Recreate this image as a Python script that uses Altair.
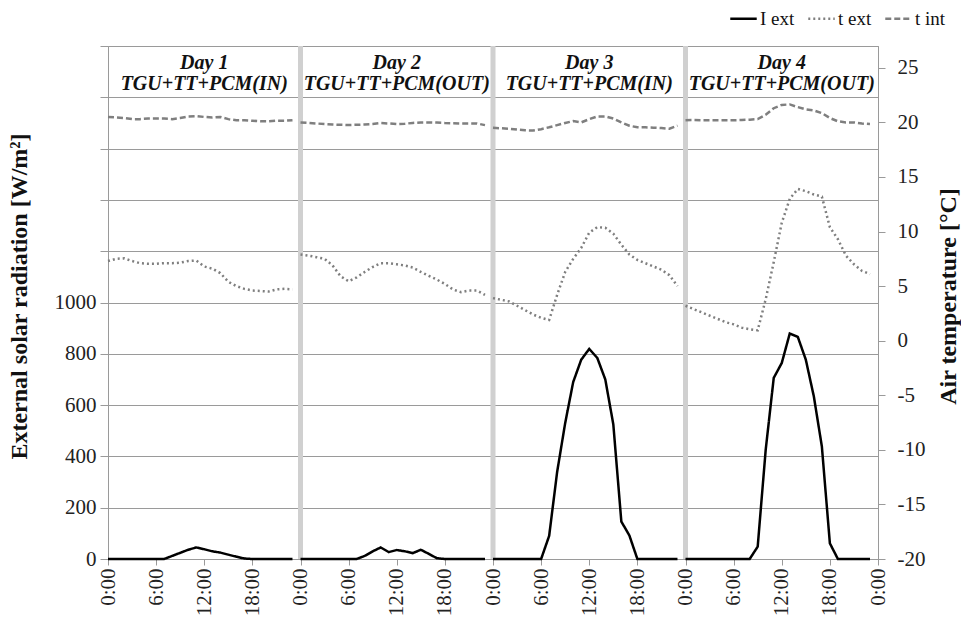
import altair as alt
import pandas as pd

FONT = "Liberation Serif"

DAY_LABELS = ["Day 1", "Day 2", "Day 3", "Day 4"]
SETUPS = ["TGU+TT+PCM(IN)", "TGU+TT+PCM(OUT)", "TGU+TT+PCM(IN)", "TGU+TT+PCM(OUT)"]
SERIES = ["I ext", "t ext", "t int"]
HOURS = list(range(24))
TICK_HOURS = list(range(0, 97, 6))

# External solar radiation [W/m2], hourly, one list per day
I_EXT = [
    [0, 0, 0, 0, 0, 0, 0, 0, 12, 24, 36, 45, 38, 30, 25, 17, 9, 2, 0, 0, 0, 0, 0, 0],
    [0, 0, 0, 0, 0, 0, 0, 0, 12, 30, 45, 27, 35, 30, 23, 36, 20, 3, 0, 0, 0, 0, 0, 0],
    [0, 0, 0, 0, 0, 0, 0, 90, 340, 530, 690, 777, 819, 784, 700, 525, 146, 92, 0, 0, 0, 0, 0, 0],
    [0, 0, 0, 0, 0, 0, 0, 0, 0, 48, 426, 706, 764, 879, 866, 777, 634, 439, 61, 0, 0, 0, 0, 0],
]

# External air temperature [degC]
T_EXT = [
    [7.3, 7.5, 7.55, 7.3, 7.1, 7.05, 7.05, 7.1, 7.1, 7.15, 7.3, 7.35,
     6.8, 6.6, 6.2, 5.4, 5.0, 4.75, 4.6, 4.55, 4.5, 4.7, 4.75, 4.7],
    [7.9, 7.8, 7.65, 7.5, 6.9, 5.9, 5.45, 5.8, 6.3, 6.75, 7.1, 7.1,
     7.0, 6.9, 6.7, 6.3, 5.95, 5.6, 5.2, 4.7, 4.45, 4.6, 4.6, 4.2],
    [3.9, 3.75, 3.6, 3.2, 2.8, 2.4, 2.1, 1.9, 4.2, 6.3, 7.5, 8.5,
     9.9, 10.4, 10.35, 9.8, 8.8, 7.9, 7.4, 7.1, 6.8, 6.5, 6.0, 5.0],
    [3.2, 2.9, 2.6, 2.3, 2.0, 1.7, 1.5, 1.2, 1.05, 0.95, 3.8, 7.2,
     10.8, 13.0, 13.9, 13.7, 13.4, 13.2, 10.4, 9.3, 7.8, 7.0, 6.4, 6.1],
]

# Internal air temperature [degC]
T_INT = [
    [20.5, 20.45, 20.4, 20.3, 20.3, 20.35, 20.35, 20.35, 20.3, 20.4, 20.55, 20.58,
     20.5, 20.45, 20.5, 20.3, 20.2, 20.2, 20.15, 20.1, 20.1, 20.15, 20.15, 20.2],
    [20.0, 19.95, 19.9, 19.85, 19.8, 19.78, 19.76, 19.78, 19.8, 19.85, 19.94, 19.9,
     19.85, 19.88, 19.95, 20.0, 20.0, 19.98, 19.94, 19.92, 19.9, 19.9, 19.9, 19.75],
    [19.5, 19.46, 19.42, 19.35, 19.28, 19.25, 19.38, 19.55, 19.75, 19.95, 20.12, 20.0,
     20.3, 20.55, 20.55, 20.35, 20.0, 19.7, 19.55, 19.55, 19.52, 19.48, 19.42, 19.7],
    [20.2, 20.22, 20.2, 20.2, 20.2, 20.2, 20.2, 20.22, 20.25, 20.3, 20.7, 21.3,
     21.6, 21.65, 21.4, 21.2, 21.1, 20.85, 20.4, 20.1, 20.0, 20.0, 19.9, 19.85],
]


def long_table(series_name, per_day):
    rows = []
    for d, values in enumerate(per_day):
        for h, v in zip(HOURS, values):
            rows.append({"hour": d * 24 + h, "day": d, "series": series_name, "value": v})
    return rows


solar_df = pd.DataFrame(long_table("I ext", I_EXT))
temp_df = pd.DataFrame(long_table("t ext", T_EXT) + long_table("t int", T_INT))
bounds_df = pd.DataFrame({"hour": [24, 48, 72]})
header_df = pd.DataFrame({
    "hour": [12, 36, 60, 84],
    "day_label": DAY_LABELS,
    "setup": SETUPS,
})

x_scale = alt.Scale(domain=[0, 96], nice=False, zero=False)
x_axis = alt.Axis(
    values=TICK_HOURS,
    labelExpr="(datum.value % 24) + ':00'",
    labelAngle=-90,
    grid=False,
    tickSize=6,
    labelPadding=3,
    title=None,
)


def x_enc():
    return alt.X("hour:Q", scale=x_scale, axis=x_axis)


color_scale = alt.Scale(domain=SERIES, range=["#000000", "#7f7f7f", "#7f7f7f"])
dash_scale = alt.Scale(domain=SERIES, range=[[1, 0], [2, 3], [6, 3]])
legend = alt.Legend(
    title=None,
    orient="none",
    legendX=621,
    legendY=-42,
    direction="horizontal",
    symbolType="stroke",
    symbolSize=700,
    symbolStrokeWidth=2.5,
    labelFont=FONT,
    labelFontSize=19,
    labelColor="#111111",
    labelOffset=2,
    columnPadding=8,
)

separators = alt.Chart(bounds_df).mark_rule(color="#d0d0d0", strokeWidth=5).encode(
    x=x_enc()
)

solar = alt.Chart(solar_df).mark_line(strokeWidth=2.5).encode(
    x=x_enc(),
    y=alt.Y(
        "value:Q",
        scale=alt.Scale(domain=[0, 2000], nice=False),
        axis=alt.Axis(
            orient="left",
            values=list(range(0, 2001, 200)),
            labelExpr="datum.value <= 1000 ? '' + datum.value : ''",
            title="External solar radiation [W/m²]",
            titleAngle=270,
            titleX=-89,
            titleY=250,
            titleAlign="center",
            titleBaseline="middle",
            grid=True,
            tickSize=8,
            labelPadding=4,
        ),
    ),
    color=alt.Color("series:N", scale=color_scale, legend=legend),
    strokeDash=alt.StrokeDash("series:N", scale=dash_scale, legend=legend),
    detail="day:N",
)

temps = alt.Chart(temp_df).mark_line(strokeWidth=2.5).encode(
    x=x_enc(),
    y=alt.Y(
        "value:Q",
        scale=alt.Scale(domain=[-20, 27], nice=False, zero=False),
        axis=alt.Axis(
            orient="right",
            values=list(range(-20, 26, 5)),
            labelExpr="'' + datum.value",
            title="Air temperature [°C]",
            titleAngle=270,
            titleX=70,
            titleY=250,
            titleAlign="center",
            titleBaseline="middle",
            grid=False,
            tickSize=7,
            labelPadding=12,
        ),
    ),
    color=alt.Color("series:N", scale=color_scale, legend=legend),
    strokeDash=alt.StrokeDash("series:N", scale=dash_scale, legend=legend),
    detail="day:N",
)

header_style = dict(font=FONT, fontSize=20, fontWeight="bold", fontStyle="italic",
                    color="#111111", baseline="middle", align="center")
header_day = alt.Chart(header_df).mark_text(**header_style).encode(
    x=x_enc(),
    y=alt.value(17),
    text="day_label:N",
)
header_setup = alt.Chart(header_df).mark_text(**header_style).encode(
    x=x_enc(),
    y=alt.value(38),
    text="setup:N",
)

chart = (
    alt.layer(separators, solar, temps, header_day, header_setup)
    .resolve_scale(y="independent")
    .properties(
        width=770,
        height=513,
        autosize=alt.AutoSizeParams(type="none"),
        padding={"left": 108, "top": 46, "right": 83, "bottom": 60},
        background="white",
    )
    .configure_view(stroke="#9a9a9a", strokeWidth=1)
    .configure_axis(
        labelFont=FONT,
        labelFontSize=21,
        labelColor="#222222",
        titleFont=FONT,
        titleFontSize=24,
        titleFontWeight="bold",
        titleColor="#111111",
        domainColor="#9a9a9a",
        tickColor="#9a9a9a",
        gridColor="#9a9a9a",
        gridWidth=1.2,
    )
)

chart.save("out.html", embed_options={"renderer": "svg", "actions": False})
